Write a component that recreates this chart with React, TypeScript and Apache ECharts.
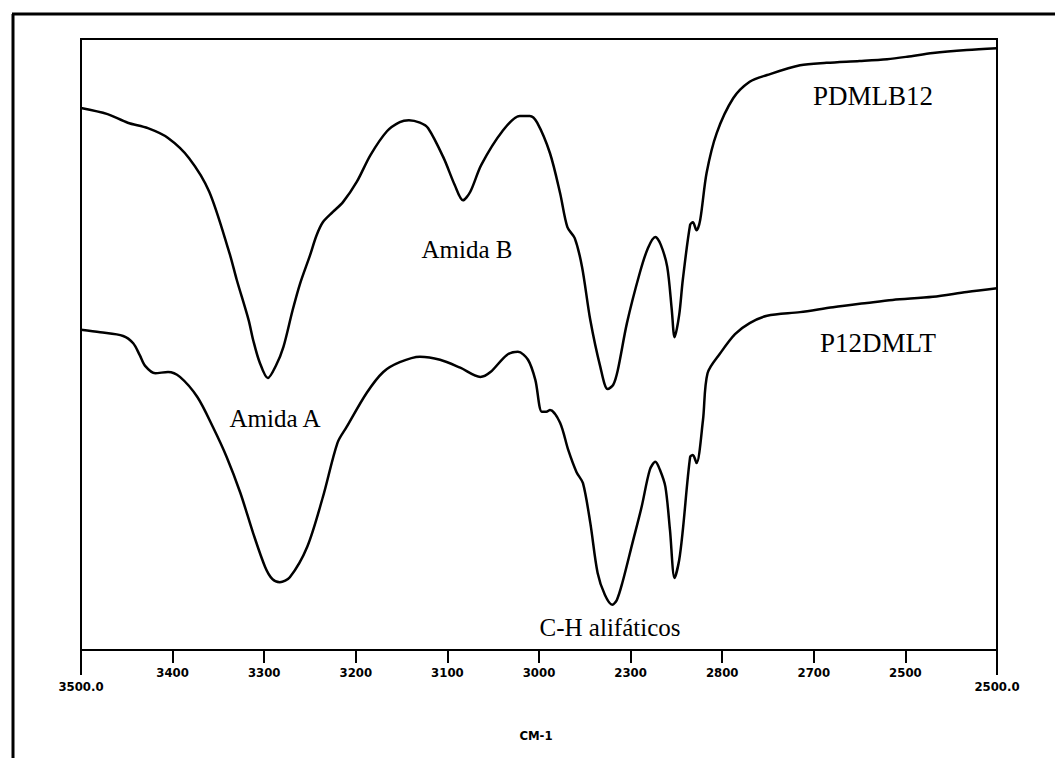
import React, { useEffect, useRef } from "react";
import * as echarts from "echarts";

// Wavenumber (cm-1) and transmittance (arbitrary %)
const upperWavenumber = [
  3500, 3471, 3449, 3427, 3405, 3382, 3360, 3338, 3330, 3317, 3312, 3305, 3296, 3287, 3279,
  3269, 3261, 3250, 3243, 3236, 3225, 3214, 3199, 3184, 3166, 3152, 3142, 3130, 3121, 3104,
  3092, 3083, 3075, 3063, 3040, 3021, 3010, 3002, 2988, 2977, 2969, 2961, 2953, 2944, 2933,
  2925, 2919, 2914, 2904, 2890, 2881, 2873, 2867, 2860, 2855, 2852, 2847, 2843, 2835, 2832,
  2828, 2824, 2817, 2806, 2788, 2770, 2751, 2715, 2686, 2650, 2620, 2598, 2570, 2533, 2500,
];
const upperValues = [
  88.7, 87.7, 86.3, 85.4, 83.8, 80.5, 75.0, 65.0, 60.6, 54.0, 50.7, 47.1, 44.5, 46.6, 49.6,
  55.6, 59.9, 64.6, 67.8, 70.0, 71.7, 73.3, 76.6, 81.0, 84.9, 86.4, 86.7, 86.3, 85.4, 80.5,
  76.1, 73.6, 75.0, 79.4, 84.9, 87.4, 87.4, 86.3, 81.3, 74.8, 69.2, 67.4, 62.7, 54.0, 46.3,
  42.7, 43.4, 45.8, 53.5, 61.7, 65.8, 67.6, 66.3, 62.7, 55.6, 51.2, 54.8, 60.6, 69.6, 70.0,
  68.7, 70.4, 78.1, 84.6, 90.3, 93.0, 94.1, 95.7, 96.1, 96.4, 96.7, 97.1, 97.7, 98.2, 98.5,
];

const lowerWavenumber = [
  3500, 3479, 3454, 3443, 3436, 3430, 3419, 3405, 3392, 3373, 3356, 3341, 3326, 3312, 3299,
  3291, 3283, 3272, 3253, 3236, 3220, 3210, 3188, 3170, 3152, 3130, 3108, 3086, 3064, 3053,
  3035, 3023, 3012, 3004, 2997, 2992, 2988, 2977, 2968, 2959, 2952, 2944, 2936, 2928, 2920,
  2915, 2909, 2898, 2888, 2879, 2873, 2868, 2862, 2857, 2852, 2847, 2843, 2835, 2832, 2828,
  2821, 2816, 2802, 2786, 2770, 2751, 2715, 2679, 2642, 2614, 2570, 2533, 2500,
];
const lowerValues = [
  52.4, 52.0, 51.4, 50.2, 48.3, 46.5, 45.3, 45.5, 44.7, 41.4, 36.5, 31.6, 25.7, 19.1, 13.6,
  11.6, 11.1, 11.9, 16.9, 25.0, 33.9, 36.5, 42.1, 45.5, 47.1, 48.0, 47.5, 46.2, 44.7, 45.5,
  48.3, 48.8, 47.5, 44.2, 39.0, 39.0, 39.3, 37.2, 32.7, 29.1, 27.3, 20.8, 12.6, 9.0, 7.4,
  8.2, 11.0, 17.5, 23.4, 29.5, 30.8, 29.5, 26.7, 19.6, 11.8, 14.7, 19.6, 31.6, 31.9, 30.6,
  37.6, 45.3, 48.6, 51.7, 53.5, 54.7, 55.3, 56.1, 56.8, 57.3, 57.8, 58.6, 59.2,
];

const tickValues = [3400, 3300, 3200, 3100, 3000, 2900, 2800, 2700, 2600];
const tickLabels = ["3400", "3300", "3200", "3100", "3000", "2300", "2800", "2700", "2500"];
const endValues = [3500, 2500];
const endLabels = ["3500.0", "2500.0"];
const axisName = "CM-1";
const seriesNames = ["PDMLB12", "P12DMLT"];

const tickFont = '"DejaVu Sans Condensed", "Liberation Sans Narrow", "DejaVu Sans", sans-serif';
const serif = '"Liberation Serif", "DejaVu Serif", serif';

export default function App() {
  const ref = useRef<HTMLDivElement>(null);

  useEffect(() => {
    document.body.style.margin = "0";
    if (!ref.current) return;
    const chart = echarts.init(ref.current, null, { renderer: "svg" });

    const upper = upperWavenumber.map((w, i) => [w, upperValues[i]]);
    const lower = lowerWavenumber.map((w, i) => [w, lowerValues[i]]);

    const serifText = (text: string, x: number, y: number, size: number) => ({
      type: "text",
      x,
      y,
      style: {
        text,
        font: `${size}px ${serif}`,
        fill: "#000",
        align: "center",
        verticalAlign: "middle",
      },
    });

    chart.setOption({
      animation: false,
      backgroundColor: "#fff",
      grid: {
        left: 81,
        top: 39,
        width: 916,
        height: 611,
        show: true,
        borderColor: "#000",
        borderWidth: 2,
        backgroundColor: "transparent",
      },
      xAxis: [
        {
          type: "value",
          min: 2500,
          max: 3500,
          interval: 100,
          inverse: true,
          position: "bottom",
          axisLine: { show: true, lineStyle: { color: "#000", width: 2 } },
          axisTick: { show: true, length: 13, lineStyle: { color: "#000", width: 2 } },
          splitLine: { show: false },
          axisLabel: {
            show: true,
            showMinLabel: false,
            showMaxLabel: false,
            margin: 16,
            color: "#000",
            fontFamily: tickFont,
            fontWeight: "bold",
            fontSize: 13,
            formatter: (v: number) => {
              const i = tickValues.indexOf(Math.round(v));
              return i >= 0 ? tickLabels[i] : "";
            },
          },
        },
        {
          type: "value",
          min: 2500,
          max: 3500,
          interval: 1000,
          inverse: true,
          position: "bottom",
          axisLine: { show: false },
          axisTick: { show: true, length: 25, lineStyle: { color: "#000", width: 2 } },
          splitLine: { show: false },
          axisLabel: {
            show: true,
            margin: 30,
            color: "#000",
            fontFamily: tickFont,
            fontWeight: "bold",
            fontSize: 13,
            formatter: (v: number) => {
              const i = endValues.indexOf(Math.round(v));
              return i >= 0 ? endLabels[i] : "";
            },
          },
        },
      ],
      yAxis: {
        type: "value",
        min: 0,
        max: 100,
        show: false,
        splitLine: { show: false },
      },
      series: [
        {
          name: seriesNames[0],
          type: "line",
          data: upper,
          showSymbol: false,
          smooth: 0.3,
          lineStyle: { color: "#000", width: 2.5 },
          silent: true,
        },
        {
          name: seriesNames[1],
          type: "line",
          data: lower,
          showSymbol: false,
          smooth: 0.3,
          lineStyle: { color: "#000", width: 2.5 },
          silent: true,
        },
      ],
      graphic: [
        {
          type: "line",
          shape: { x1: 13, y1: 14, x2: 13, y2: 758 },
          style: { stroke: "#000", lineWidth: 3 },
        },
        {
          type: "line",
          shape: { x1: 12, y1: 14, x2: 1055, y2: 14 },
          style: { stroke: "#000", lineWidth: 3 },
        },
        serifText(seriesNames[0], 873, 96, 27),
        serifText(seriesNames[1], 878, 343, 27),
        serifText("Amida B", 467, 249, 25),
        serifText("Amida A", 275, 418, 25),
        serifText("C-H alifáticos", 610, 627, 25),
        {
          type: "text",
          x: 536,
          y: 735,
          style: {
            text: axisName,
            font: `bold 13px ${tickFont}`,
            fill: "#000",
            align: "center",
            verticalAlign: "middle",
          },
        },
      ],
    });

    return () => chart.dispose();
  }, []);

  return <div ref={ref} style={{ width: 1055, height: 758, background: "#fff" }} />;
}
